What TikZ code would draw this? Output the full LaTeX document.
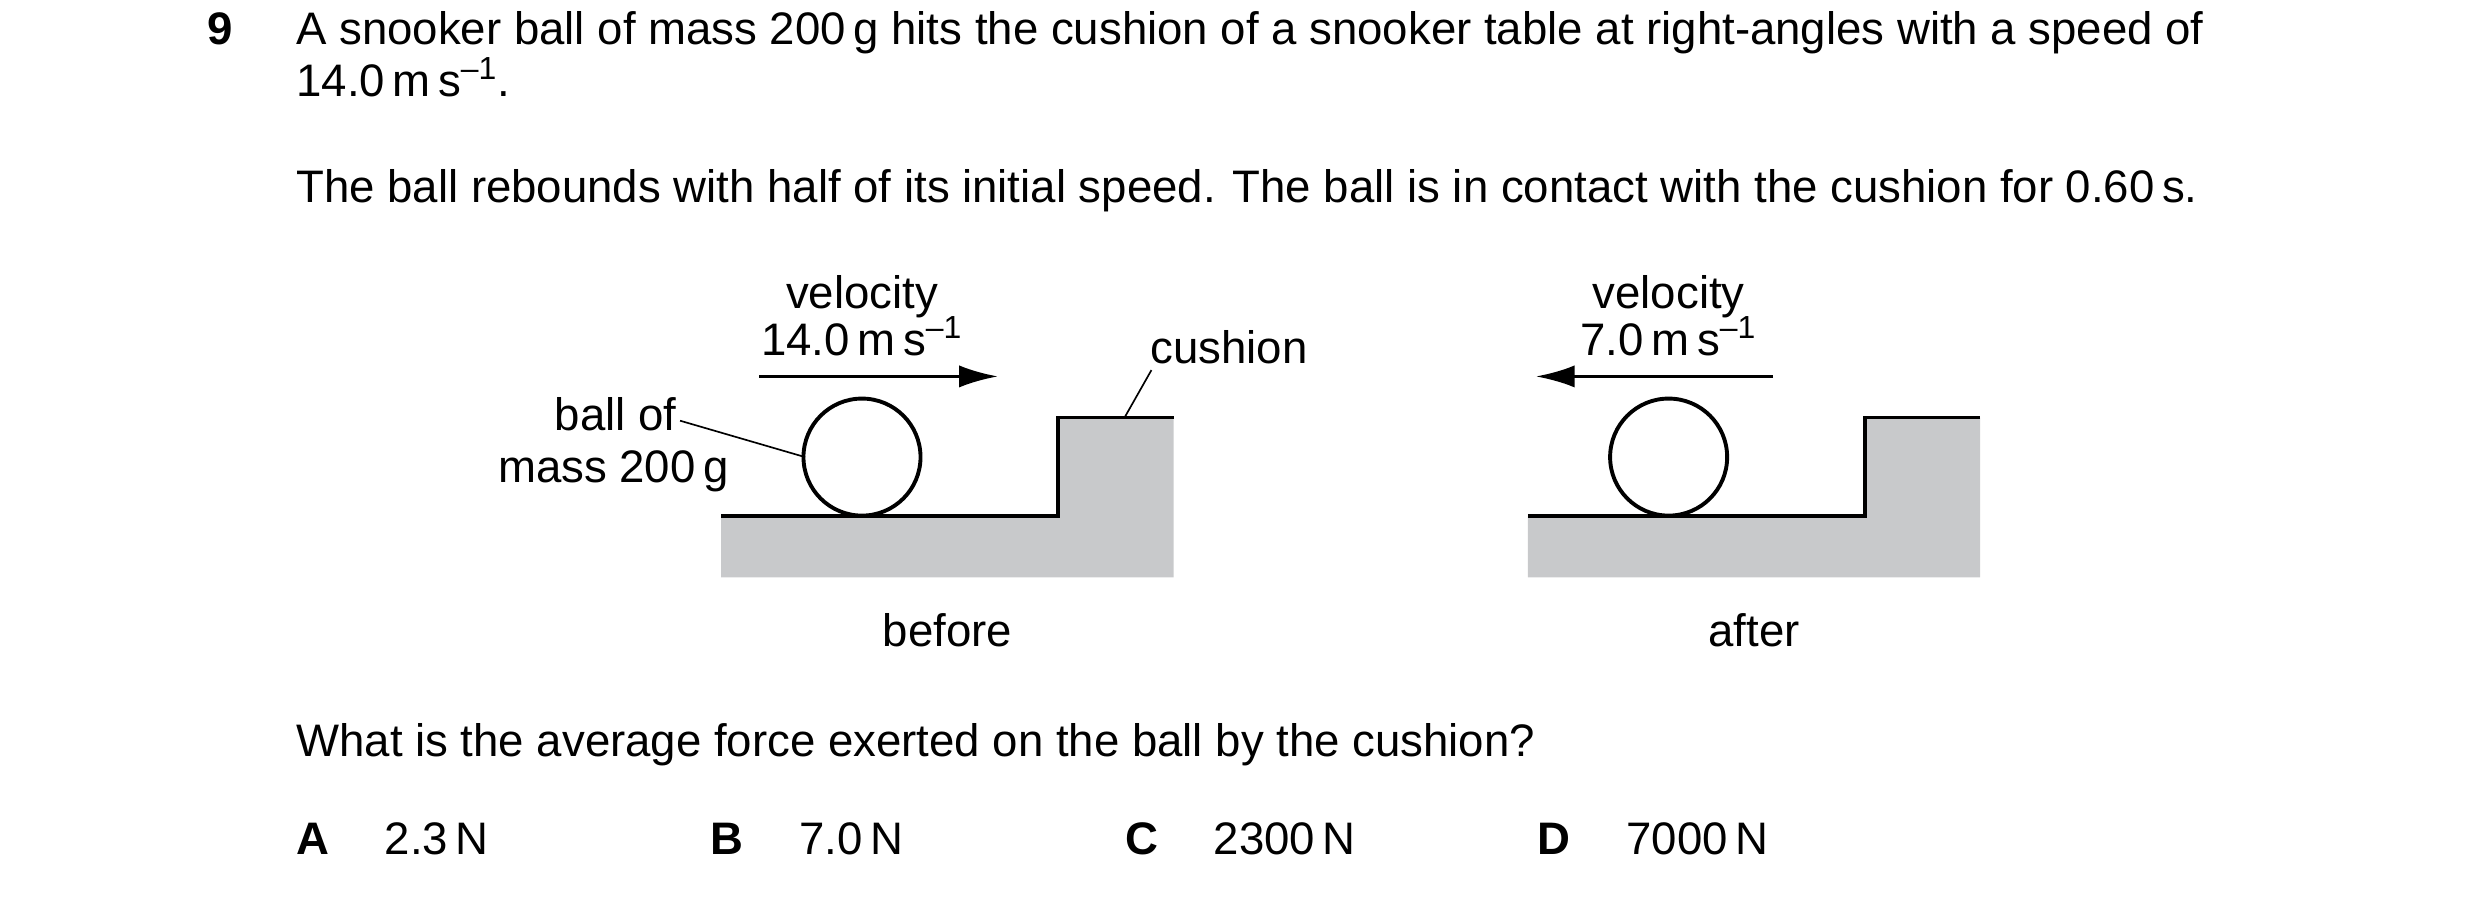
\documentclass[tikz,border=0pt]{standalone}
\usepackage{fontspec}
\setmainfont{Liberation Sans}
\usetikzlibrary{arrows.meta,positioning}
\definecolor{cushiongrey}{RGB}{200,201,203}
\newcommand{\perunit}[1]{#1\,m\,s\textsuperscript{–1}}
\begin{document}
\begin{tikzpicture}[x=0.02cm,y=-0.02cm,font=\fontsize{16.4}{19}\selectfont,
    txt/.style={inner sep=0pt,anchor=base west},
    lbl/.style={inner sep=0pt,anchor=base},
    edge/.style={line width=1.4pt},
    lead/.style={line width=0.6pt},
    motion/.style={line width=1.2pt,-{Latex[length=14pt,width=8pt]}}]
  \useasboundingbox (0,0) rectangle (1568,567);
  % question text
  \node[txt] (num) at (131,28) {\bfseries 9};
  \node[txt,text width=1251*0.02cm,align=justify] (l1) at (187,28) {\parfillskip=0pt A snooker ball of mass 200\,g hits the cushion of a snooker table at right-angles with a speed of};
  \node[txt] (l2) at (187,61) {\perunit{14.0}.};
  \node[txt] (l3) at (187,128) {The ball rebounds with half of its initial speed. The ball is in contact with the cushion for 0.60\,s.};
  % before
  \fill[cushiongrey] (456,326) rectangle (742,365) (669,264) rectangle (742,326);
  \draw[edge] (456,326) -- (669,326) -- (669,264) -- (742,264);
  \draw[edge,fill=white] (545,289) circle (37);
  \node[lbl] (v1) at (545,195) {velocity};
  \node[lbl] (s1) at (545,225) {\perunit{14.0}};
  \coordinate (a1s) at (480,238);
  \coordinate (a1e) at (631,238);
  \draw[motion] (a1s) -- (a1e);
  \node[lbl] (cush) at (777,230) {cushion};
  \coordinate (cushtip) at (711,264);
  \draw[lead] (cushtip) -- (728,234);
  \node[inner sep=0pt,anchor=base east] (ball1) at (428,272) {ball of};
  \node[inner sep=0pt,anchor=base east] (ball2) at (461,305) {mass 200\,g};
  \coordinate (balltip) at (509,289);
  \draw[lead] (430,266) -- (balltip);
  \node[lbl] (bef) at (599,409) {before};
  % after
  \fill[cushiongrey] (966,326) rectangle (1252,365) (1179,264) rectangle (1252,326);
  \draw[edge] (966,326) -- (1179,326) -- (1179,264) -- (1252,264);
  \draw[edge,fill=white] (1055,289) circle (37);
  \node[lbl] (v2) at (1055,195) {velocity};
  \node[lbl] (s2) at (1055,225) {\perunit{7.0}};
  \coordinate (a2s) at (1121,238);
  \coordinate (a2e) at (971,238);
  \draw[motion] (a2s) -- (a2e);
  \node[lbl] (aft) at (1109,409) {after};
  % question and options
  \node[txt] (q) at (187,478) {What is the average force exerted on the ball by the cushion?};
  \foreach \ltr/\xl/\val in {A/187/2.3, B/449/7.0, C/711/2300, D/972/7000}{
    \node[txt] (opt\ltr) at (\xl,540) {\bfseries \ltr};
    \node[txt] (val\ltr) at (\xl+56,540) {\val\,N};
  }
\end{tikzpicture}
\end{document}
